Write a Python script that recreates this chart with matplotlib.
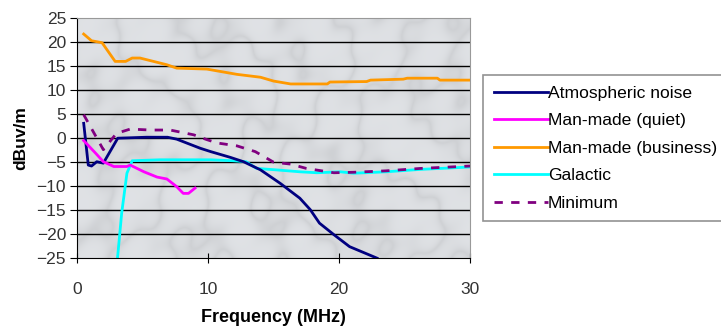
import matplotlib
matplotlib.use("Agg")
import matplotlib.pyplot as plt
import numpy as np

plt.rcParams['font.family'] = ['Liberation Sans', 'DejaVu Sans']

# values (frequency in MHz, level in dBuV/m)
atm_x = [0.5, 0.85, 1.1, 1.5, 2.0, 3.1, 5.3, 6.9, 7.6, 9.4, 10.2, 11.7, 12.7,
         14.0, 15.5, 17.0, 17.8, 18.5, 19.6, 20.8, 22.9]
atm_y = [3.1, -5.6, -5.8, -4.9, -5.2, 0.0, 0.2, 0.2, -0.2, -2.1, -2.8, -4.0,
         -4.9, -6.6, -9.4, -12.5, -14.9, -17.7, -20.1, -22.6, -25.0]

quiet_x = [0.5, 1.4, 2.0, 2.8, 3.8, 4.05, 5.1, 6.1, 6.85, 7.6, 8.1, 8.5, 9.0]
quiet_y = [-0.5, -3.1, -4.9, -5.9, -5.9, -5.6, -7.0, -8.1, -8.5, -10.1, -11.5,
           -11.5, -10.4]

bus_x = [0.5, 1.1, 1.9, 2.9, 3.7, 4.2, 4.8, 6.85, 7.6, 9.9, 12.2, 14.0, 15.0,
         16.3, 19.1, 19.3, 22.1, 22.4, 24.9, 25.2, 27.5, 27.7, 30.0]
bus_y = [21.7, 20.3, 19.9, 16.0, 16.0, 16.7, 16.7, 15.3, 14.6, 14.4, 13.3,
         12.7, 11.9, 11.3, 11.3, 11.7, 11.8, 12.1, 12.3, 12.5, 12.5, 12.1, 12.1]

gal_x = [3.08, 3.4, 3.8, 4.2, 6.3, 10.2, 11.9, 12.9, 13.7, 15.2, 17.0, 18.3,
         20.1, 21.1, 23.6, 26.2, 30.0]
gal_y = [-25.0, -15.6, -7.3, -4.7, -4.5, -4.5, -4.7, -4.9, -6.3, -6.6, -7.0,
         -7.2, -7.0, -7.3, -7.0, -6.5, -6.0]

min_x = [0.5, 2.0, 3.0, 4.05, 5.6, 7.1, 8.9, 9.9, 10.7, 12.2, 13.6, 15.0, 16.3,
         17.5, 19.6, 21.1, 23.6, 26.2, 30.0]
min_y = [4.9, -2.4, 1.0, 1.9, 1.7, 1.7, 0.7, -0.3, -1.0, -1.6, -2.8, -5.0,
         -5.4, -6.3, -7.2, -7.1, -6.8, -6.3, -5.8]

fig = plt.figure(figsize=(7.21, 3.31), dpi=100)
ax = fig.add_axes([0.107, 0.22, 0.545, 0.725])

# marble-like background texture (purely decorative)
gx, gy = np.meshgrid(np.linspace(0, 12, 400), np.linspace(0, 6, 200))
swirl = (np.sin(gx * 1.3 + 1.8 * np.sin(gy * 1.1 + gx * 0.5))
         + 0.7 * np.sin(gx * 2.7 - gy * 2.1 + 1.2 * np.cos(gx * 0.8))
         + 0.5 * np.sin(gx * 5.3 + gy * 4.1) * np.cos(gy * 3.3 - gx * 1.7))
veins = np.exp(-np.abs(swirl) * 2.0)
shade = 0.90 - 0.07 * veins
bg = np.dstack([shade * 0.975, shade * 0.985, shade * 1.0])
ax.imshow(bg, extent=[0, 30, -25, 25], aspect='auto', zorder=0,
          interpolation='bilinear')

for yv in range(-20, 25, 5):
    ax.axhline(yv, color='black', lw=1.0, zorder=1)

ax.plot(atm_x, atm_y, color='#000080', lw=2, label='Atmospheric noise', zorder=3)
ax.plot(quiet_x, quiet_y, color='#FF00FF', lw=2, label='Man-made (quiet)', zorder=3)
ax.plot(bus_x, bus_y, color='#FF9900', lw=2, label='Man-made (business)', zorder=3)
ax.plot(gal_x, gal_y, color='#00FFFF', lw=2, label='Galactic', zorder=2)
ax.plot(min_x, min_y, color='#800080', lw=2, ls=(0, (3, 3)), label='Minimum',
        zorder=4)

ax.set_xlim(0, 30)
ax.set_ylim(-25, 25)
ax.set_xticks([0, 10, 20, 30])
ax.set_yticks(range(-25, 30, 5))
ax.tick_params(axis='both', labelsize=12.5, colors='black', length=5,
               labelcolor='#333333')
ax.tick_params(axis='y', direction='out', pad=3)
ax.tick_params(axis='x', direction='inout', length=7, pad=14)
for side in ['top', 'right']:
    ax.spines[side].set_color('#999999')
for side in ['left', 'bottom']:
    ax.spines[side].set_color('black')

ax.set_xlabel('Frequency (MHz)', fontsize=13, fontweight='bold', labelpad=8)
ax.set_ylabel('dBuv/m', fontsize=12.5, fontweight='bold', labelpad=6)

leg = fig.legend(loc='upper left', bbox_to_anchor=(0.67, 0.773), fontsize=12.6,
                 frameon=True, fancybox=False, handlelength=3.1,
                 handletextpad=0.0, labelspacing=0.7, borderpad=0.6,
                 borderaxespad=0)
leg.get_frame().set_edgecolor('#777777')
leg.get_frame().set_linewidth(1.2)

fig.savefig('out.png', dpi=100)
